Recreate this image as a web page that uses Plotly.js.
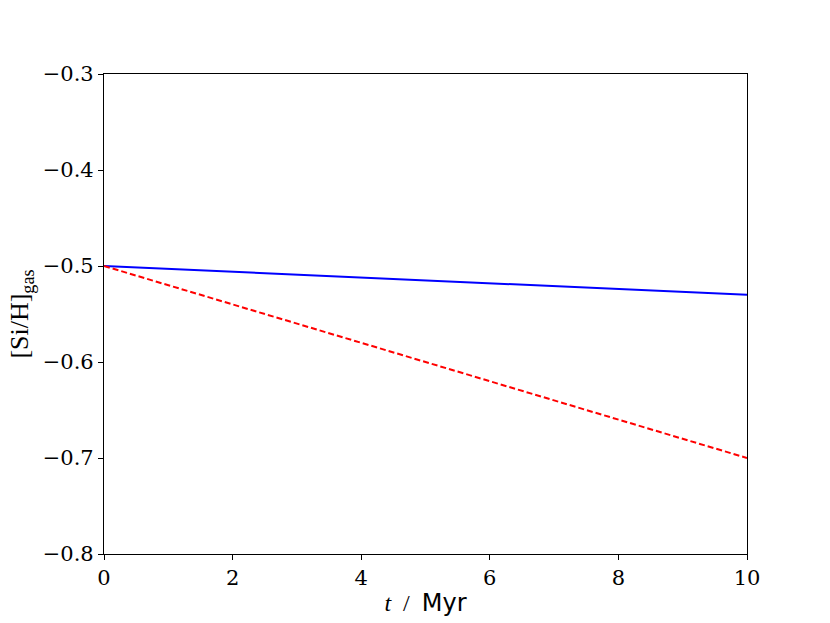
<!DOCTYPE html>
<html>
<head>
<meta charset="utf-8">
<script src="https://cdn.plot.ly/plotly-3.0.1.min.js"></script>
<style>html,body{margin:0;padding:0;background:#fff;}</style>
</head>
<body>
<div id="chart" style="width:830px;height:623px;"></div>
<script>
const timeMyr = [0, 10];
const siGasSolid = [-0.50, -0.53];
const siGasDashed = [-0.50, -0.70];
const xTicks = [0, 2, 4, 6, 8, 10];
const yTicks = [-0.8, -0.7, -0.6, -0.5, -0.4, -0.3];
const yTickText = yTicks.map(v => '\u2212' + Math.abs(v).toFixed(1));

const traces = [
  {x: timeMyr, y: siGasSolid, mode: 'lines', line: {color: '#0000ff', width: 2}, showlegend: false},
  {x: timeMyr, y: siGasDashed, mode: 'lines', line: {color: '#ff0000', width: 2, dash: '6px,3px'}, showlegend: false}
];

const layout = {
  width: 830, height: 623,
  margin: {l: 104, r: 83, t: 74, b: 69},
  plot_bgcolor: '#ffffff',
  xaxis: {
    range: [0, 10], tickvals: xTicks, ticktext: xTicks.map(String),
    ticks: 'outside', ticklen: 5, tickcolor: '#000000',
    showline: true, mirror: true, linecolor: '#000000', linewidth: 1.2,
    showgrid: false, zeroline: false,
    tickfont: {family: 'DejaVu Serif', size: 21, color: '#000000'},
    title: {text: '<i>t</i>  /  <span style="font-family:DejaVu Sans">Myr</span>', font: {family: 'Liberation Serif', size: 24, color: '#000000'}, standoff: 4}
  },
  yaxis: {
    range: [-0.8, -0.3], tickvals: yTicks, ticktext: yTickText,
    ticks: 'outside', ticklen: 5, tickcolor: '#000000',
    showline: true, mirror: true, linecolor: '#000000', linewidth: 1.2,
    showgrid: false, zeroline: false,
    tickfont: {family: 'DejaVu Serif', size: 21, color: '#000000'},
    title: {text: '[Si/H]<sub>gas</sub>', font: {family: 'Liberation Serif', size: 26, color: '#000000'}, standoff: 6}
  }
};

Plotly.newPlot('chart', traces, layout, {displayModeBar: false});
</script>
</body>
</html>
